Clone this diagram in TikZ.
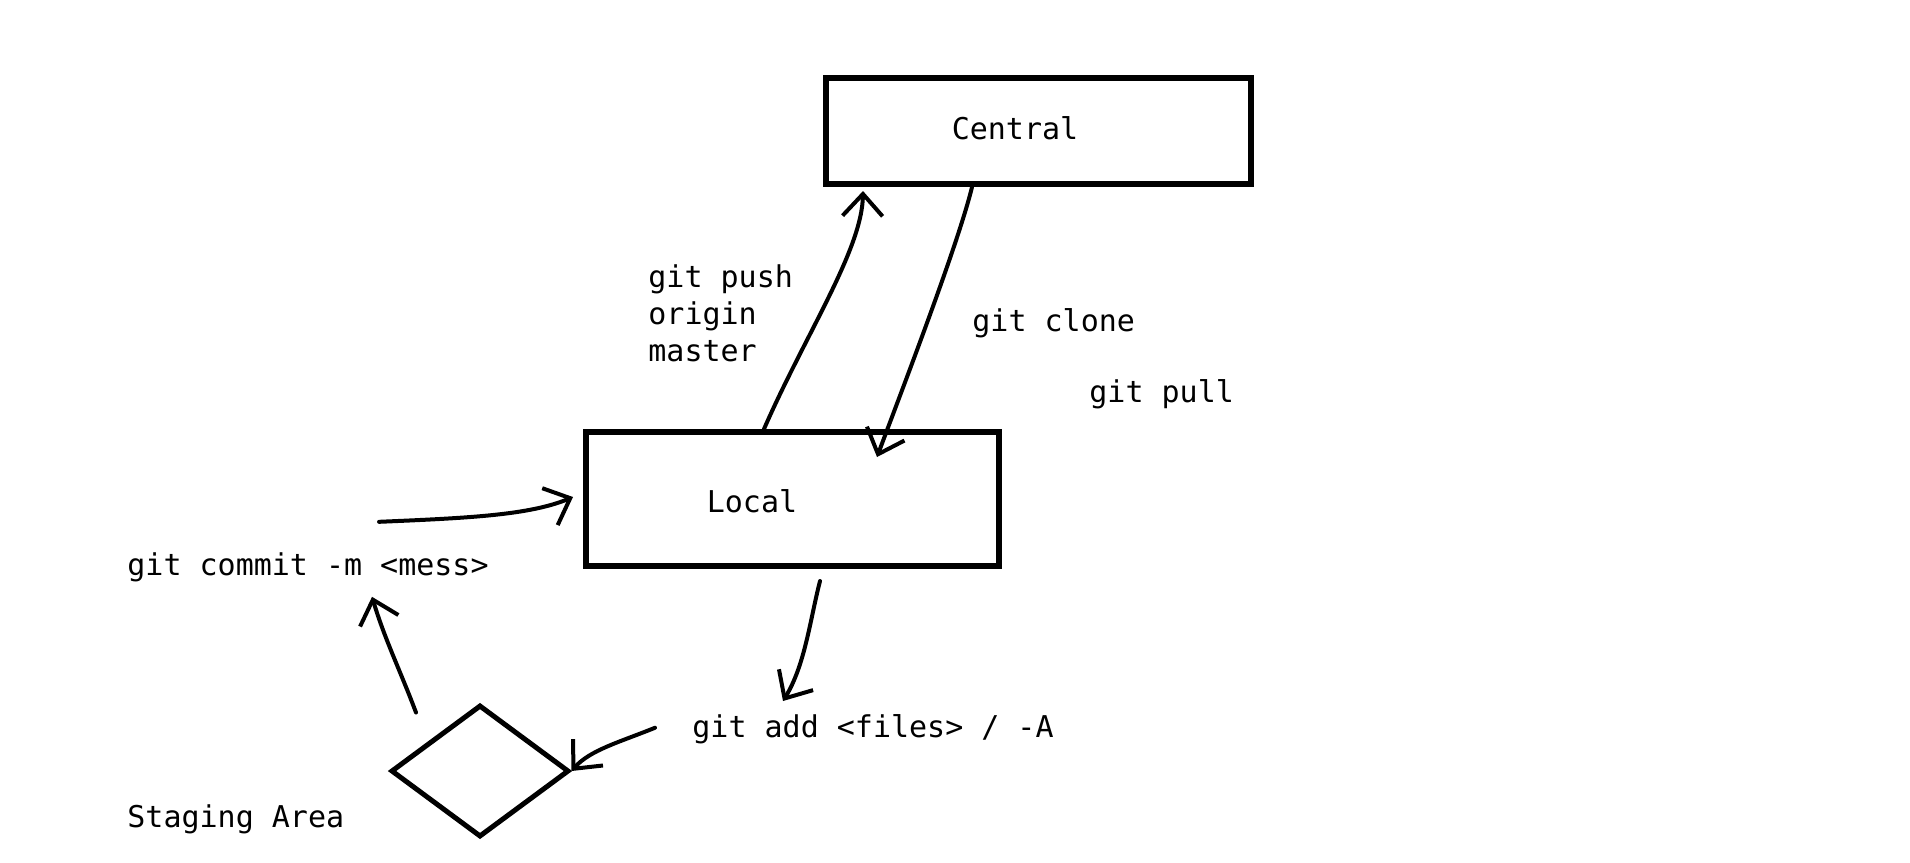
\documentclass[tikz,border=0pt]{standalone}
\usepackage{fontspec}
\setmonofont{DejaVu Sans Mono}
\usetikzlibrary{arrows.meta,shapes.geometric,calc}
\begin{document}
\begin{tikzpicture}[x=0.5pt,y=-0.5pt,
  box/.style={draw,line width=3pt,rectangle,inner sep=0pt},
  lbl/.style={font=\ttfamily\fontsize{15pt}{18pt}\selectfont,anchor=base west,inner sep=0pt},
  conn/.style={line width=2pt,line cap=round,line join=round,-{Straight Barb[length=11pt,width=20pt]}}]
\useasboundingbox[fill=white] (0,0) rectangle (1910,862);
% boxes
\node[box,minimum width=212.5pt,minimum height=53pt] (central) at (1038.5,131) {};
\node[box,minimum width=206.5pt,minimum height=67pt] (local) at (792.5,499) {};
\node[draw,diamond,line width=2.5pt,inner sep=0pt,minimum width=89pt,minimum height=66pt] (stage) at (480,771) {};
% texts
\node[lbl,anchor=center] (centraltxt) at (1015,128) {Central};
\node[lbl,anchor=center] (localtxt) at (752,501) {Local};
\node[lbl] (push1) at (648,287) {git push};
\node[lbl] (push2) at (648,324) {origin};
\node[lbl] (push3) at (648,361) {master};
\node[lbl] (clone) at (972,331) {git clone};
\node[lbl] (pull) at (1089,402) {git pull};
\node[lbl] (commit) at (127,575) {git commit -m <mess>};
\node[lbl] (add) at (692,737) {git add <files> / -A};
\node[lbl] (stagetxt) at (127,827) {Staging Area};
% connector end points
\coordinate (pushS) at ($(local.north west)+(181,0)$);
\coordinate (pushE) at ($(central.south west)+(40,4)$);
\coordinate (cloneS) at ($(central.south west)+(149,0)$);
\coordinate (cloneE) at ($(local.north west)+(294,28)$);
\coordinate (addS) at ($(local.south west)+(237,12)$);
\coordinate (addE) at ($(local.south west)+(200,132)$);
\coordinate (toStageS) at ($(add.west)+(-37,-1)$);
\coordinate (fromStageS) at ($(stage.north)+(-64,10)$);
\coordinate (commitE) at ($(commit.south)+(64,15)$);
\coordinate (commitS) at ($(commit.north)+(71,-30)$);
\coordinate (localW) at ($(local.west)+(-10,-2)$);
% connectors
\draw[conn] (pushS) .. controls (805,335) and (862,250) .. (pushE);
\draw[conn] (cloneS) .. controls (958,245) and (900,395) .. (cloneE);
\draw[conn] (addS) .. controls (810,620) and (805,665) .. (addE);
\draw[conn] (toStageS) .. controls (620,742) and (590,750) .. (stage.east);
\draw[conn] (fromStageS) .. controls (400,670) and (385,640) .. (commitE);
\draw[conn] (commitS) .. controls (470,518) and (530,515) .. (localW);
\end{tikzpicture}
\end{document}
